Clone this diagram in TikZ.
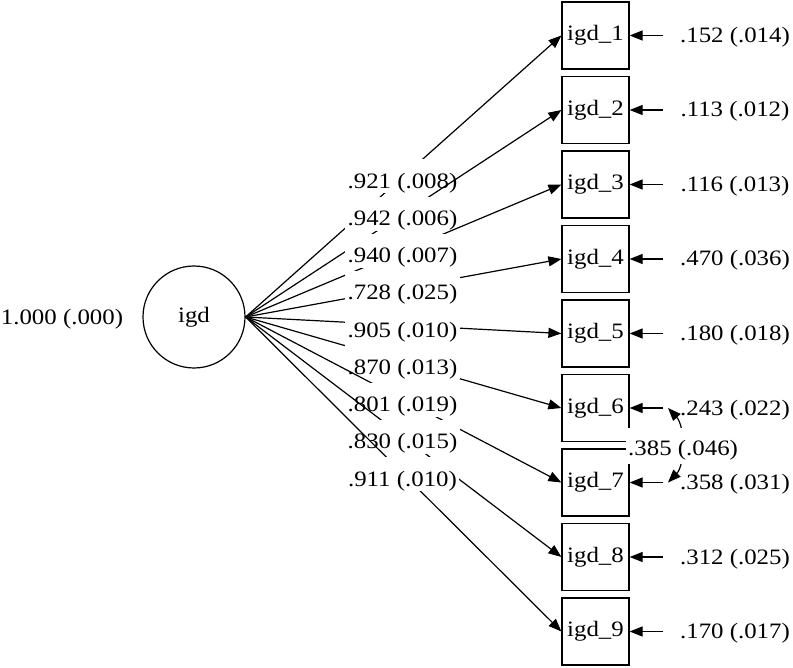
\documentclass[tikz,border=0pt]{standalone}
\usepackage{fontspec}
\setmainfont{Liberation Serif}[FakeStretch=1.13]
\usetikzlibrary{arrows.meta}
\begin{document}
\begin{tikzpicture}[x=1pt,y=-1pt,
  txt/.style={font=\fontsize{22pt}{26pt}\selectfont},
  obsbox/.style={draw,line width=1.2pt,minimum width=67pt,minimum height=67pt,inner sep=0pt,txt},
  latent/.style={draw,circle,line width=1.2pt,minimum size=102pt,inner sep=0pt,txt},
  arr/.style={line width=1.2pt,-{Triangle[length=13pt,width=10pt]}},
  biarr/.style={line width=1.2pt,{Triangle[length=13pt,width=10pt]}-{Triangle[length=13pt,width=10pt]}},
  lab/.style={fill=white,inner xsep=2.5pt,inner ysep=0pt,text height=29pt,text depth=5pt,anchor=base,txt},
  rlab/.style={anchor=base,inner sep=0pt,txt}]
\useasboundingbox (0,0) rectangle (793,668);
% latent factor
\node[latent] (igd) at (194,317) {igd};
\node[anchor=base,inner sep=0pt,txt] (var) at (62,324.5) {1.000 (.000)};
% indicator boxes
\foreach \i/\y in {1/35.5,2/110,3/184.5,4/259,5/333.5,6/408,7/482.5,8/557,9/631.5}{
  \node[obsbox] (b\i) at (595.5,\y) {igd\_\i};
}
% loadings with their labels
\foreach \i/\t in {1/{.921 (.008)},2/{.942 (.006)},3/{.940 (.007)},4/{.728 (.025)},5/{.905 (.010)},6/{.870 (.013)},7/{.801 (.019)},8/{.830 (.015)},9/{.911 (.010)}}{
  \draw[arr] (igd.east) -- (b\i.west);
  \node[lab] (l\i) at (402.5,{188.4+37.2*(\i-1)}) {\t};
}
% residuals
\foreach \i/\y/\t in {1/35.5/{.152 (.014)},2/110/{.113 (.012)},3/184.5/{.116 (.013)},4/259/{.470 (.036)},5/333.5/{.180 (.018)},6/408/{.243 (.022)},7/482.5/{.358 (.031)},8/557/{.312 (.025)},9/631.5/{.170 (.017)}}{
  \coordinate (r\i) at (663,\y);
  \draw[arr] (r\i) -- (b\i.east);
  \node[rlab] (e\i) at (735,{\y+7}) {\t};
}
% residual correlation
\coordinate (c6) at (668,408);
\coordinate (c7) at (668,482.5);
\draw[biarr] (c6) .. controls (685,426) and (685,465) .. (c7);
\node[fill=white,anchor=base west,inner xsep=2pt,inner ysep=0pt,text height=28pt,text depth=8pt,txt] (cl) at (626,455.5) {.385 (.046)};
\end{tikzpicture}
\end{document}
